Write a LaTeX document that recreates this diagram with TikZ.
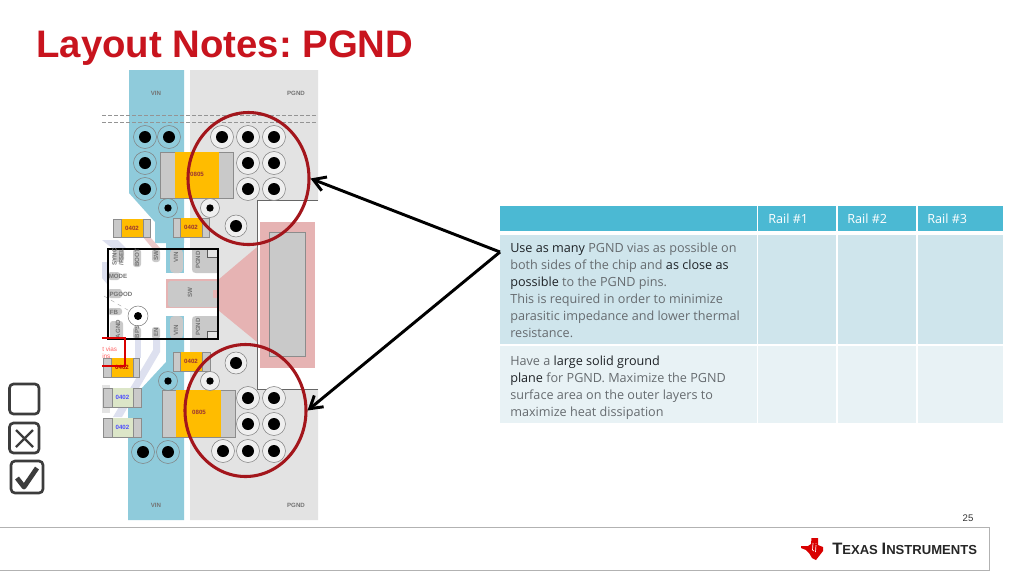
\documentclass[tikz,border=0pt]{standalone}
\usepackage{fontspec}
\setmainfont{Open Sans}
\newfontfamily\arialf{Liberation Sans}
\usetikzlibrary{shapes.geometric,arrows.meta}
\definecolor{titlered}{HTML}{C8141E}
\definecolor{vinblue}{HTML}{8FCBDB}
\definecolor{pgndgrey}{HTML}{E3E3E3}
\definecolor{viaring}{HTML}{EFEFEF}
\definecolor{pinkpad}{HTML}{E6B3B3}
\definecolor{compgrey}{HTML}{C9C9C9}
\definecolor{compedge}{HTML}{8C8C8C}
\definecolor{capyellow}{HTML}{FFBC00}
\definecolor{capgreen}{HTML}{DCE6C8}
\definecolor{lilac}{HTML}{DDE0EF}
\definecolor{ringred}{HTML}{A3161C}
\definecolor{headblue}{HTML}{4BB9D3}
\definecolor{rowone}{HTML}{CFE5EC}
\definecolor{rowtwo}{HTML}{E8F2F5}
\definecolor{softtext}{HTML}{666B6F}
\definecolor{darktext}{HTML}{1E2226}
\definecolor{iconc}{HTML}{3C3C3C}
\tikzset{
  x=0.75pt,y=-0.75pt,
  via/.style={circle,draw=black!50,line width=0.4pt,fill=viaring,minimum size=#1*1.5pt,inner sep=0pt},
  hole/.style={circle,fill=black,minimum size=#1*1.5pt,inner sep=0pt},
  comp/.style={draw=compedge,fill=compgrey,line width=0.5pt},
  lbl/.style={font=\arialf\bfseries\fontsize{4.6}{5}\selectfont,text=#1,inner sep=0pt},
  lbl/.default={black!55},
  rowtext/.style={anchor=north west,align=left,inner sep=0pt,text=softtext,font=\fontsize{9.47}{12.75}\selectfont},
  headtext/.style={text=white,font=\fontsize{9.47}{12.75}\selectfont,inner sep=0pt},
  callout/.style={draw=black,line width=2.2pt,-{Straight Barb[length=9pt,width=11pt,line width=2.2pt]}},
  ring/.style={ellipse,draw=ringred,line width=2.3pt,inner sep=0pt,minimum width=90.75pt,minimum height=99pt},
  cbox/.style={draw=iconc,rounded corners=3pt,line width=2pt},
  dashline/.style={draw=black!42,line width=0.45pt,dash pattern=on 3pt off 1.5pt},
}
\newcommand{\dk}[1]{{\color{darktext}#1}}
\newcommand{\capc}[8]{%
  \draw[comp] (#1,#2) rectangle (#3,#4);
  \fill[#7] (#5,#2) rectangle (#6,#4);
  \draw[compedge,line width=0.3pt] (#5,#2) -- (#5,#4) (#6,#2) -- (#6,#4);
  \node[lbl=#8] at ({(#5+#6)/2},{(#2+#4)/2}) {0402};}
\begin{document}
\frenchspacing
\begin{tikzpicture}
\useasboundingbox (0,0) rectangle (1024,576);
\fill[white] (0,0) rectangle (1024,576);
% title
\node[anchor=west,inner sep=0pt,text=titlered,font=\arialf\bfseries\fontsize{28.75}{30}\selectfont] (title) at (36,48) {Layout Notes: PGND};
% copper
\fill[vinblue] (129,70) -- (184,70) -- (184,243) -- (155,243) -- (155,222) -- (129,193) -- cycle;
\fill[vinblue] (166,243) rectangle (184,279);
\fill[vinblue] (166,308) rectangle (184,362);
\fill[vinblue] (166,340) -- (184,340) -- (184,520) -- (128,520) -- (128,403) -- (166,362) -- cycle;
\fill[pgndgrey] (190,70) -- (318,70) -- (318,200) -- (257,200) -- (257,247) -- (220,280) -- (190,280) -- cycle;
\fill[pgndgrey] (190,310) -- (220,310) -- (257,342) -- (257,389) -- (318,389) -- (318,520) -- (190,520) -- cycle;
\draw[black!60,line width=0.6pt] (318,200) -- (257,200) -- (257,389) -- (318,389);
% pink
\fill[pinkpad] (260,222) rectangle (315,368);
\fill[pinkpad] (218,280) -- (257,247) -- (257,342) -- (218,310) -- cycle;
\draw[comp] (269,232) rectangle (305,356);
% faint traces
\fill[pinkpad!70] (143,237) -- (150,237) -- (161,249) -- (153,249) -- cycle;
\fill[lilac] (102,240) -- (118,240) -- (127,249) -- (113,249) -- cycle;
\fill[lilac] (102,262) -- (108,262) -- (108,285) -- (102,278) -- cycle;
\fill[lilac] (135,339) rectangle (141,358);
\fill[lilac] (153,339) -- (160,339) -- (160,352) -- (122,417) -- (113,417) -- (153,350) -- cycle;
\fill[pgndgrey] (102,385) rectangle (110,413);
% chip
\fill[white] (108,249) rectangle (218,339);
\fill[pinkpad] (166,279) rectangle (218,308);
\fill[compgrey,rounded corners=2pt] (168,281) -- (218,281) -- (218,307) -- (168,307) -- cycle;
\fill[vinblue] (166,249) rectangle (184,273);
\fill[vinblue] (166,316) rectangle (184,339);
\fill[pinkpad] (213,290) rectangle (218,298);
\fill[compgrey,rounded corners=3pt] (170,249) rectangle (183,273);
\fill[compgrey,rounded corners=3pt] (170,316) rectangle (183,339);
\fill[compgrey] (192,249) -- (218,249) -- (218,273) -- (196,273) .. controls (193,273) and (192,272) .. (192,269) -- cycle;
\fill[compgrey] (196,316) -- (218,316) -- (218,339) -- (192,339) -- (192,320) .. controls (192,317) and (193,316) .. (196,316) -- cycle;
\draw[black!65,line width=0.4pt,fill=pgndgrey] (207,249) rectangle (218,257);
\draw[black!65,line width=0.4pt,fill=pgndgrey] (207,331) rectangle (218,339);
\fill[compgrey,rounded corners=2pt] (152,249) rectangle (160,262);
\fill[compgrey,rounded corners=2pt] (133,249) rectangle (141,267);
\fill[compgrey,rounded corners=2pt] (113,249) rectangle (124,262);
\fill[compgrey,rounded corners=2pt] (108,272) rectangle (120,280);
\fill[compgrey,rounded corners=2pt] (108,289) rectangle (122,298);
\fill[compgrey,rounded corners=2pt] (108,308) rectangle (122,315);
\fill[compgrey,rounded corners=2pt] (110,321) rectangle (123,339);
\fill[compgrey,rounded corners=2pt] (133,327) rectangle (141,339);
\fill[compgrey,rounded corners=2pt] (152,327) rectangle (160,339);
\draw[black!35,dashed,line width=0.3pt] (104,296) -- (138,316);
\node[via=10,fill=white] (v0) at (138,316) {};\node[hole=4] at (138,316) {};
\draw[black,line width=1.2pt] (108,249) rectangle (218,339);
\node[lbl,rotate=90] at (156,256) {SW};
\node[lbl,rotate=90] at (137,258) {BOOT};
\node[lbl,rotate=90,align=center] at (118,257) {SYNC\\/FSEL};
\node[lbl] at (118,276) {MODE};
\node[lbl] at (121,294) {PGOOD};
\node[lbl] at (114,312) {FB};
\node[lbl,rotate=90] at (118,329) {AGND};
\node[lbl,rotate=90] at (137,332) {BPS};
\node[lbl,rotate=90] at (156,332) {EN};
\node[lbl,rotate=90] at (176,257) {VIN};
\node[lbl,rotate=90] at (176,330) {VIN};
\node[lbl,rotate=90] at (198,260) {PGND};
\node[lbl,rotate=90] at (198,327) {PGND};
\node[lbl,rotate=90] at (190,293) {SW};
% dashed
\draw[dashline] (102,115.7) -- (318,115.7);
\draw[dashline] (102,122) -- (318,122);
\node[lbl] at (156,93) {VIN};
\node[lbl] at (296,93) {PGND};
\node[lbl] at (156,505) {VIN};
\node[lbl] at (296,505) {PGND};
% caps
\draw[comp] (160,152) rectangle (233,198);
\fill[capyellow] (175,152) rectangle (219,198);
\node[lbl=black!50!red!80] at (197,174) {0805};
\draw[comp] (162,390) rectangle (235,437);
\fill[capyellow] (176,390) rectangle (221,437);
\node[lbl=black!50!red!80] at (199,412) {0805};
\capc{113}{219}{150}{237}{121}{143}{capyellow}{black!50!red!80}
\capc{173}{218}{209}{237}{180}{202}{capyellow}{black!50!red!80}
\capc{173}{352}{210}{371}{180}{202}{capyellow}{black!50!red!80}
\capc{103}{358}{139}{377}{111}{133}{capyellow}{red!70!black}
\capc{103}{388}{141}{407}{112}{133}{capgreen}{blue!70}
\capc{103}{418}{141}{437}{112}{133}{capgreen}{blue!70}
% red trace
\draw[red!85!black,line width=1pt] (102,338) -- (125,338) -- (125,366) -- (102,366);
\node[anchor=west,inner sep=0pt,text=red!60,font=\arialf\fontsize{4.8}{5}\selectfont] at (102,349) {t vias};
\node[anchor=west,inner sep=0pt,text=red!60,font=\arialf\fontsize{4.8}{5}\selectfont] at (102,356) {ins};
% vias
\foreach \p/\q in {145/137,169/137,145/163,145/189,143/452,168/452} {\node[via=11.5,fill=vinblue] at (\p,\q) {};\node[hole=6] at (\p,\q) {};}
\foreach \p/\q in {222/137,248/137,274/137,248/163,274/163,248/189,274/189,248/398,274/398,248/424,274/424,223/451,248/451,274/451} {\node[via=11.5] at (\p,\q) {};\node[hole=6] at (\p,\q) {};}
\foreach \p/\q in {236/226,236/363} {\node[via=11] at (\p,\q) {};\node[hole=6] at (\p,\q) {};}
\foreach \p/\q in {168/208,168/381} {\node[via=9.5,fill=vinblue] at (\p,\q) {};\node[hole=3.7] at (\p,\q) {};}
\foreach \p/\q in {210/208,210/381} {\node[via=9.5] at (\p,\q) {};\node[hole=3.7] at (\p,\q) {};}
% table
\fill[headblue] (500,206) rectangle (757,231);
\fill[headblue] (758,206) rectangle (836,231);
\fill[headblue] (838,206) rectangle (916,231);
\fill[headblue] (918,206) rectangle (1003,231);
\node[headtext,anchor=west] (r1) at (768,219) {Rail \#1};
\node[headtext,anchor=west] (r2) at (847,219) {Rail \#2};
\node[headtext,anchor=west] (r3) at (927,219) {Rail \#3};
\fill[rowone] (500,235) rectangle (757,344);
\fill[rowone] (758,235) rectangle (836,344);
\fill[rowone] (838,235) rectangle (916,344);
\fill[rowone] (918,235) rectangle (1003,344);
\fill[rowtwo] (500,346) rectangle (757,423);
\fill[rowtwo] (758,346) rectangle (836,423);
\fill[rowtwo] (838,346) rectangle (916,423);
\fill[rowtwo] (918,346) rectangle (1003,423);
\coordinate (tail) at (500,252);
\node[rowtext] (t1) at (510,242.5) {\dk{Use as many} PGND vias as possible on\\both sides of the chip and \dk{as close as}\\\dk{possible} to the PGND pins.\\This is required in order to minimize\\parasitic impedance and lower thermal\\resistance.};
\node[rowtext] (t2) at (510,355.5) {Have a \dk{large solid ground}\\\dk{plane} for PGND. Maximize the PGND\\surface area on the outer layers to\\maximize heat dissipation};
% rings and arrows
\node[ring] (e1) at (248.5,178.5) {};
\node[ring] (e2) at (245.5,410.5) {};
\draw[callout] (tail) -- (e1.0);
\draw[callout] (tail) -- (e2.0);
% check boxes
\draw[cbox] (9.5,384) rectangle (39,414);
\draw[cbox] (9.5,423) rectangle (39,453);
\draw[iconc,line width=1.8pt] (16,430) -- (33,447) (33,430) -- (16,447);
\draw[cbox] (11,461) rectangle (43,493);
\draw[iconc,line width=3.6pt,line join=round] (17,478) -- (24,487) -- (37,468);
% footer
\draw[black!30,line width=0.5pt] (-2,527) rectangle (989,570);
\node[inner sep=0pt,font=\arialf\fontsize{7.2}{8}\selectfont,text=black!80] (pg) at (968,518) {25};
\fill[red!85!black] (811.5,538) -- (818,538) -- (818,545) -- (823,547) -- (823,551) -- (816,560) -- (812,558) -- (809,553) -- (806,550) -- (801,548) -- (801,546) -- (808,546) -- (811,544) -- cycle;
\draw[white,line width=0.5pt] (813,543) -- (812.5,550) -- (814,551) (816,545) -- (815.5,552) (816,543) -- (816,543.7);
\node[anchor=west,inner sep=0pt,text=black!85,font=\arialf\bfseries] (ti) at (832,549) {{\fontsize{12.4}{13}\selectfont T}{\fontsize{9.8}{10}\selectfont EXAS} {\fontsize{12.4}{13}\selectfont I}{\fontsize{9.8}{10}\selectfont NSTRUMENTS}};
\end{tikzpicture}
\end{document}
